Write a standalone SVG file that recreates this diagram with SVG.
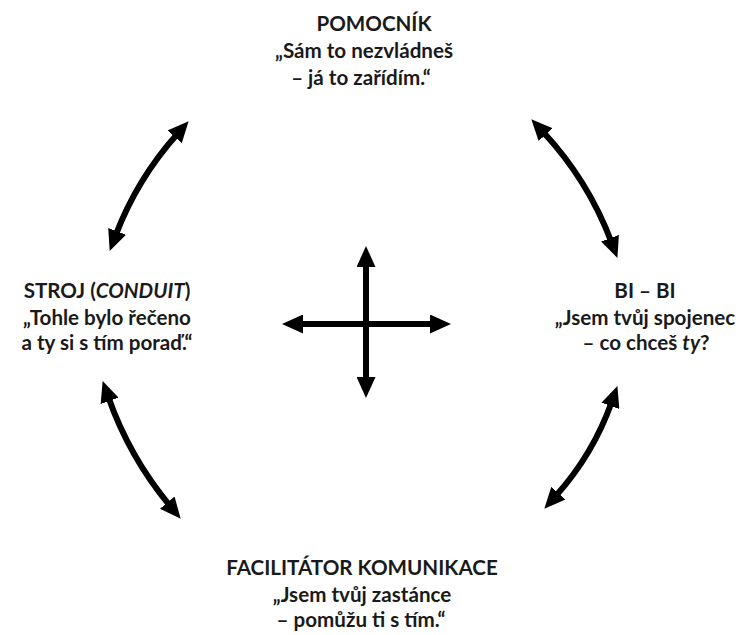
<svg xmlns="http://www.w3.org/2000/svg" width="747" height="635" viewBox="0 0 747 635">
<style>
text{font-family:Lato,"Open Sans","Liberation Sans",sans-serif;font-weight:700;font-size:20.6px;fill:#1a1a1a;text-anchor:middle}
.c{fill:none;stroke:#000;stroke-width:6;marker-start:url(#ah);marker-end:url(#ah)}
.i{font-style:italic}
</style>
<defs>
<marker id="ah" viewBox="0 0 21 19" refX="4" refY="9.5" markerWidth="21" markerHeight="19" markerUnits="userSpaceOnUse" orient="auto-start-reverse">
<path d="M0,0 L21,9.5 L0,19 z" fill="#000"/>
</marker>
</defs>
<rect width="747" height="635" fill="#fff"/>
<g id="connectors">
<path class="c" d="M115.7,235.1 Q137,179 177.3,133.9"/>
<path class="c" d="M542.9,131.7 Q588,180 611.4,242"/>
<path class="c" d="M108.3,397.1 Q129.3,456.9 169.8,505.7"/>
<path class="c" d="M611.7,402.1 Q593,454.7 555.7,496.1"/>
<path class="c" d="M366,263 L366,381"/>
<path class="c" d="M299,324 L434,324"/>
</g>
<g id="pomocnik">
<text x="374" y="31">POMOCNÍK</text>
<text x="364" y="58">„Sám to nezvládneš</text>
<text x="361" y="85">– já to zařídím.“</text>
</g>
<g id="stroj">
<text x="107" y="298">STROJ (<tspan class="i">CONDUIT</tspan>)</text>
<text x="107" y="325">„Tohle bylo řečeno</text>
<text x="107" y="350">a ty si s tím poraď.“</text>
</g>
<g id="bibi">
<text x="645" y="298">BI – BI</text>
<text x="645" y="325">„Jsem tvůj spojenec</text>
<text x="646" y="350">– co chceš <tspan class="i">ty</tspan>?</text>
</g>
<g id="facilitator">
<text x="362" y="575">FACILITÁTOR KOMUNIKACE</text>
<text x="362" y="602">„Jsem tvůj zastánce</text>
<text x="361" y="627">– pomůžu ti s tím.“</text>
</g>
</svg>
